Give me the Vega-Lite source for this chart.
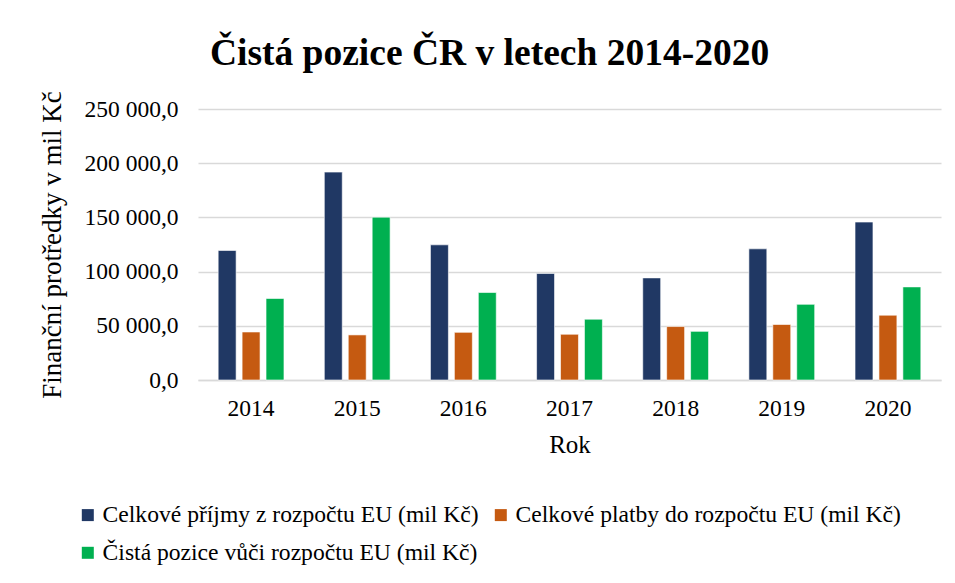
{
  "$schema": "https://vega.github.io/schema/vega-lite/v6.json",
  "width": 743,
  "height": 271,
  "autosize": {"type": "none"},
  "padding": {"left": 198, "top": 109, "right": 14, "bottom": 203},
  "background": "white",
  "title": {
    "text": "Čistá pozice ČR v letech 2014-2020",
    "font": "Liberation Serif",
    "fontSize": 37.5,
    "fontWeight": "bold",
    "color": "#000000",
    "anchor": "middle",
    "frame": "bounds",
    "offset": 18
  },
  "data": {
    "values": [
      {"rok": "2014", "serie": "Celkové příjmy z rozpočtu EU (mil Kč)", "hodnota": 119500},
      {"rok": "2014", "serie": "Celkové platby do rozpočtu EU (mil Kč)", "hodnota": 44300},
      {"rok": "2014", "serie": "Čistá pozice vůči rozpočtu EU (mil Kč)", "hodnota": 75200},
      {"rok": "2015", "serie": "Celkové příjmy z rozpočtu EU (mil Kč)", "hodnota": 191800},
      {"rok": "2015", "serie": "Celkové platby do rozpočtu EU (mil Kč)", "hodnota": 41600},
      {"rok": "2015", "serie": "Čistá pozice vůči rozpočtu EU (mil Kč)", "hodnota": 150200},
      {"rok": "2016", "serie": "Celkové příjmy z rozpočtu EU (mil Kč)", "hodnota": 124700},
      {"rok": "2016", "serie": "Celkové platby do rozpočtu EU (mil Kč)", "hodnota": 44000},
      {"rok": "2016", "serie": "Čistá pozice vůči rozpočtu EU (mil Kč)", "hodnota": 80700},
      {"rok": "2017", "serie": "Celkové příjmy z rozpočtu EU (mil Kč)", "hodnota": 98300},
      {"rok": "2017", "serie": "Celkové platby do rozpočtu EU (mil Kč)", "hodnota": 42200},
      {"rok": "2017", "serie": "Čistá pozice vůči rozpočtu EU (mil Kč)", "hodnota": 56100},
      {"rok": "2018", "serie": "Celkové příjmy z rozpočtu EU (mil Kč)", "hodnota": 94200},
      {"rok": "2018", "serie": "Celkové platby do rozpočtu EU (mil Kč)", "hodnota": 49300},
      {"rok": "2018", "serie": "Čistá pozice vůči rozpočtu EU (mil Kč)", "hodnota": 44900},
      {"rok": "2019", "serie": "Celkové příjmy z rozpočtu EU (mil Kč)", "hodnota": 121000},
      {"rok": "2019", "serie": "Celkové platby do rozpočtu EU (mil Kč)", "hodnota": 51200},
      {"rok": "2019", "serie": "Čistá pozice vůči rozpočtu EU (mil Kč)", "hodnota": 69800},
      {"rok": "2020", "serie": "Celkové příjmy z rozpočtu EU (mil Kč)", "hodnota": 145700},
      {"rok": "2020", "serie": "Celkové platby do rozpočtu EU (mil Kč)", "hodnota": 59800},
      {"rok": "2020", "serie": "Čistá pozice vůči rozpočtu EU (mil Kč)", "hodnota": 85900}
    ]
  },
  "mark": {"type": "bar", "stroke": "white", "strokeWidth": 1, "strokeOpacity": 0.6},
  "encoding": {
    "x": {
      "field": "rok",
      "type": "nominal",
      "scale": {"paddingInner": 0.38, "paddingOuter": 0.19},
      "axis": {
        "title": "Rok",
        "titleFontSize": 25,
        "titleFontWeight": "normal",
        "titleColor": "#000000",
        "titlePadding": 13,
        "labelFontSize": 23.5,
        "labelColor": "#000000",
        "labelAngle": 0,
        "labelPadding": 16,
        "ticks": false,
        "domain": true,
        "domainColor": "#d9d9d9",
        "domainWidth": 1.5
      }
    },
    "xOffset": {
      "field": "serie",
      "type": "nominal",
      "sort": ["Celkové příjmy z rozpočtu EU (mil Kč)", "Celkové platby do rozpočtu EU (mil Kč)", "Čistá pozice vůči rozpočtu EU (mil Kč)"],
      "scale": {"paddingInner": 0.25, "paddingOuter": 0}
    },
    "y": {
      "field": "hodnota",
      "type": "quantitative",
      "scale": {"domain": [0, 250000], "nice": false},
      "axis": {
        "title": "Finanční protředky v mil Kč",
        "titleFontSize": 27,
        "titleFontWeight": "normal",
        "titleColor": "#000000",
        "titlePadding": 18,
        "labelFontSize": 23.5,
        "labelColor": "#000000",
        "labelPadding": 20,
        "values": [0, 50000, 100000, 150000, 200000, 250000],
        "format": ",.1f",
        "ticks": false,
        "domain": false,
        "grid": true,
        "gridColor": "#d9d9d9",
        "gridWidth": 1.5
      }
    },
    "color": {
      "field": "serie",
      "type": "nominal",
      "sort": ["Celkové příjmy z rozpočtu EU (mil Kč)", "Celkové platby do rozpočtu EU (mil Kč)", "Čistá pozice vůči rozpočtu EU (mil Kč)"],
      "scale": {
        "domain": ["Celkové příjmy z rozpočtu EU (mil Kč)", "Celkové platby do rozpočtu EU (mil Kč)", "Čistá pozice vůči rozpočtu EU (mil Kč)"],
        "range": ["#203864", "#C55A11", "#00B050"]
      },
      "legend": {
        "title": null,
        "orient": "none",
        "legendX": -122,
        "legendY": 394,
        "direction": "horizontal",
        "columns": 2,
        "columnPadding": 10,
        "rowPadding": 13,
        "symbolType": "square",
        "symbolSize": 144,
        "symbolStrokeWidth": 0,
        "symbolOffset": 0,
        "labelFontSize": 23.6,
        "labelColor": "#000000",
        "labelOffset": 3,
        "labelLimit": 500
      }
    }
  },
  "config": {
    "font": "Liberation Serif",
    "axis": {"labelFont": "Liberation Serif", "titleFont": "Liberation Serif"},
    "legend": {"labelFont": "Liberation Serif"},
    "locale": {
      "number": {
        "decimal": ",",
        "thousands": " ",
        "grouping": [3],
        "currency": ["", " Kč"]
      }
    },
    "view": {"stroke": null}
  }
}
